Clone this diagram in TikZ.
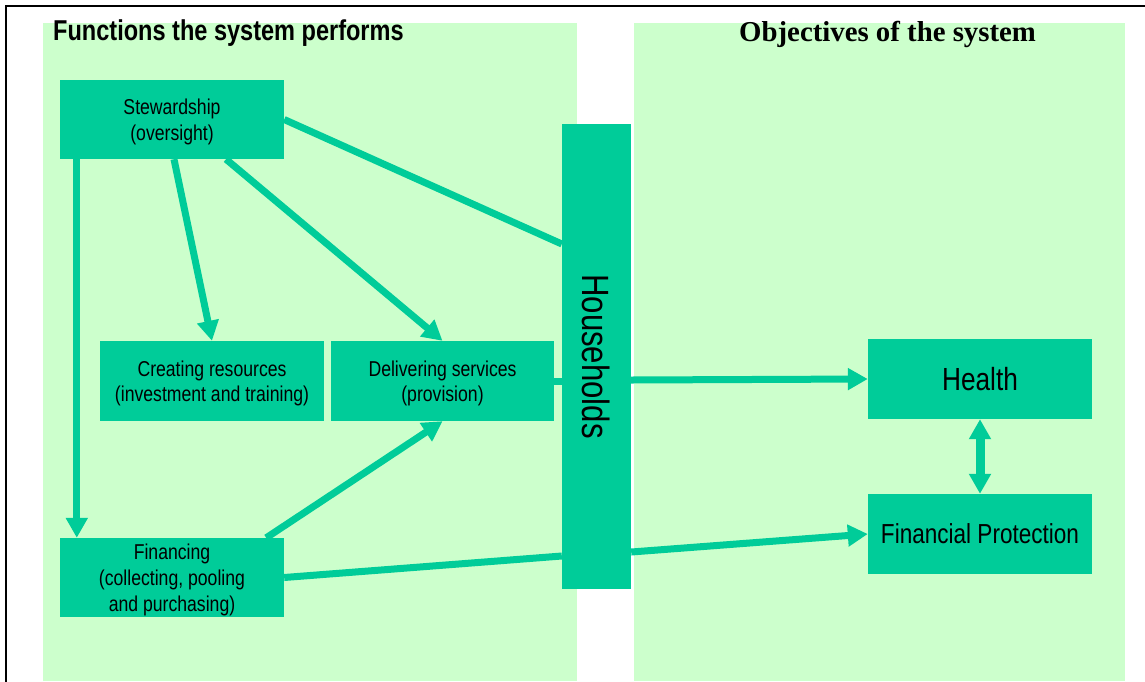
\documentclass[tikz,border=0pt]{standalone}
\usepackage{fontspec}
\setmainfont[FakeStretch=0.82]{Liberation Sans}
\newfontfamily\tnr{Liberation Serif}
\usetikzlibrary{arrows.meta,calc}
\definecolor{boxgreen}{RGB}{0,204,153}
\definecolor{panelgreen}{RGB}{204,255,204}
\newcommand{\boxlines}[1]{\raisebox{0pt}[\dimexpr\height+3pt\relax][\dimexpr\depth-3pt\relax]{\begin{tabular}{@{}c@{}}#1\end{tabular}}}
\tikzset{
  fbox/.style={fill=boxgreen, draw=none, inner sep=0pt, align=center,
    minimum width=224pt, minimum height=79pt,
    font=\fontsize{21.5}{25.7}\selectfont},
  objbox/.style={fill=boxgreen, draw=none, inner sep=0pt, align=center,
    minimum width=224pt, minimum height=80pt},
  link/.style={draw=boxgreen, line width=7pt},
  arrowlink/.style={link, -{Triangle[length=20pt,width=21pt]}},
  dbl/.style={draw=boxgreen, line width=9pt,
    {Triangle[length=20pt,width=21pt]}-{Triangle[length=20pt,width=21pt]}},
}
\begin{document}
\begin{tikzpicture}[x=1pt,y=-1pt]
\useasboundingbox (0,0) rectangle (1145,681);
% panels
\fill[panelgreen] (43,23) rectangle (577,681);
\fill[panelgreen] (634,23) rectangle (1125,681);
% frame
\draw[line width=1.8pt] (6.3,682) -- (6.3,5.8) -- (1146,5.8);
% titles
\node[anchor=base west, inner sep=0pt, font=\fontsize{28.7}{30}\selectfont\bfseries] (t1) at (53,40) {Functions the system performs};
\node[anchor=base west, inner sep=0pt, font=\tnr\fontsize{28.8}{30}\selectfont\bfseries] (t2) at (739,41) {Objectives of the system};
% boxes
\node[fbox] (stew) at (172,119.5) {\boxlines{Stewardship\\(oversight)}};
\node[fbox, minimum height=80pt] (cre) at (212,381) {\boxlines{Creating resources\\(investment and training)}};
\node[fbox, minimum width=223pt, minimum height=80pt] (del) at (442.5,381) {\boxlines{Delivering services\\(provision)}};
\node[fbox] (fin) at (172,577.5) {\boxlines{Financing\\(collecting, pooling\\and purchasing)}};
\node[fill=boxgreen, inner sep=0pt, minimum width=69pt, minimum height=465pt] (hh) at (596.5,356.5) {};
\node[rotate=-90, inner sep=0pt, font=\fontsize{38}{40}\selectfont] (hhlabel) at (hh.center) {Households};
\node[objbox, font=\fontsize{32}{34}\selectfont] (health) at (980,379) {Health};
\node[objbox, font=\fontsize{27.5}{30}\selectfont] (fp) at (980,534) {Financial Protection};
% connectors
\draw[arrowlink] ([xshift=2pt]stew.south) -- (cre.north);
\draw[arrowlink] ([xshift=54pt]stew.south) -- (del.north);
\draw[link] (stew.east) -- ([yshift=112.5pt]hh.west);
\draw[arrowlink] ([xshift=17pt]stew.south west) -- ([xshift=17pt]fin.north west);
\draw[arrowlink] ([xshift=-18pt]fin.north east) -- (del.south);
\draw[link] (fin.east) -- ([yshift=-199.5pt]hh.west);
\draw[link] (del.east) -- ([yshift=-24.5pt]hh.west);
\draw[arrowlink] ([yshift=-23.5pt]hh.east) -- (health.west);
\draw[arrowlink] ([yshift=-195.5pt]hh.east) -- (fp.west);
\draw[dbl] (health.south) -- (fp.north);
\end{tikzpicture}
\end{document}
